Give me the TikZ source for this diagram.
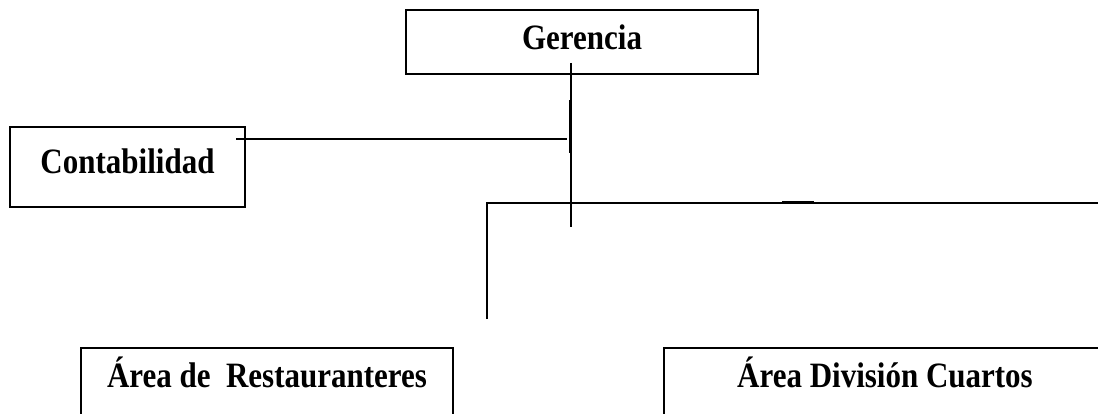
\documentclass[tikz,border=0pt]{standalone}
\usepackage{fontspec}
\setmainfont{Liberation Serif}
\newcommand{\tallt}[1]{\scalebox{1}[1.15]{#1}}
\begin{document}
\begin{tikzpicture}[x=1pt,y=-1pt,
  orgbox/.style={draw=black,line width=1.6pt,inner xsep=0pt,inner ysep=14pt,anchor=base,
    font=\fontsize{31}{37}\selectfont\bfseries},
  conn/.style={line width=1.2pt,black},
  thickseg/.style={line width=3pt,black}]
\useasboundingbox (0,0) rectangle (1098,414);
\clip (0,0) rectangle (1098,414);
% boxes
\node[orgbox,minimum width=352pt,text height=26pt,text depth=10pt] (ger) at (582,50) {\tallt{Gerencia}};
\node[orgbox,minimum width=235pt,text height=33pt,text depth=19pt] (cont) at (127.5,174) {\tallt{Contabilidad}};
\node[orgbox,minimum width=372pt,text height=25pt,text depth=60pt] (rest) at (267,387) {\tallt{Área de~~Restauranteres}};
\node[orgbox,minimum width=442pt,text height=25pt,text depth=60pt] (cuar) at (885,387) {\tallt{Área División Cuartos}};
% coordinates
\coordinate (g1) at (571,63);
\coordinate (g2) at (571,227);
\coordinate (t1) at (570,100);
\coordinate (t2) at (570,153);
\coordinate (c1) at (236,139);
\coordinate (c2) at (567,139);
\coordinate (b0) at (487,319);
\coordinate (b1) at (487,203);
\coordinate (b2) at (1100,203);
\coordinate (s1) at (782,203);
\coordinate (s2) at (814,203);
% connectors
\draw[conn] (g1) -- (g2);
\draw[line width=2.2pt] (t1) -- (t2);
\draw[conn] (c1) -- (c2);
\draw[conn] (b0) -- (b1) -- (b2);
\draw[thickseg] (s1) -- (s2);
\end{tikzpicture}
\end{document}
